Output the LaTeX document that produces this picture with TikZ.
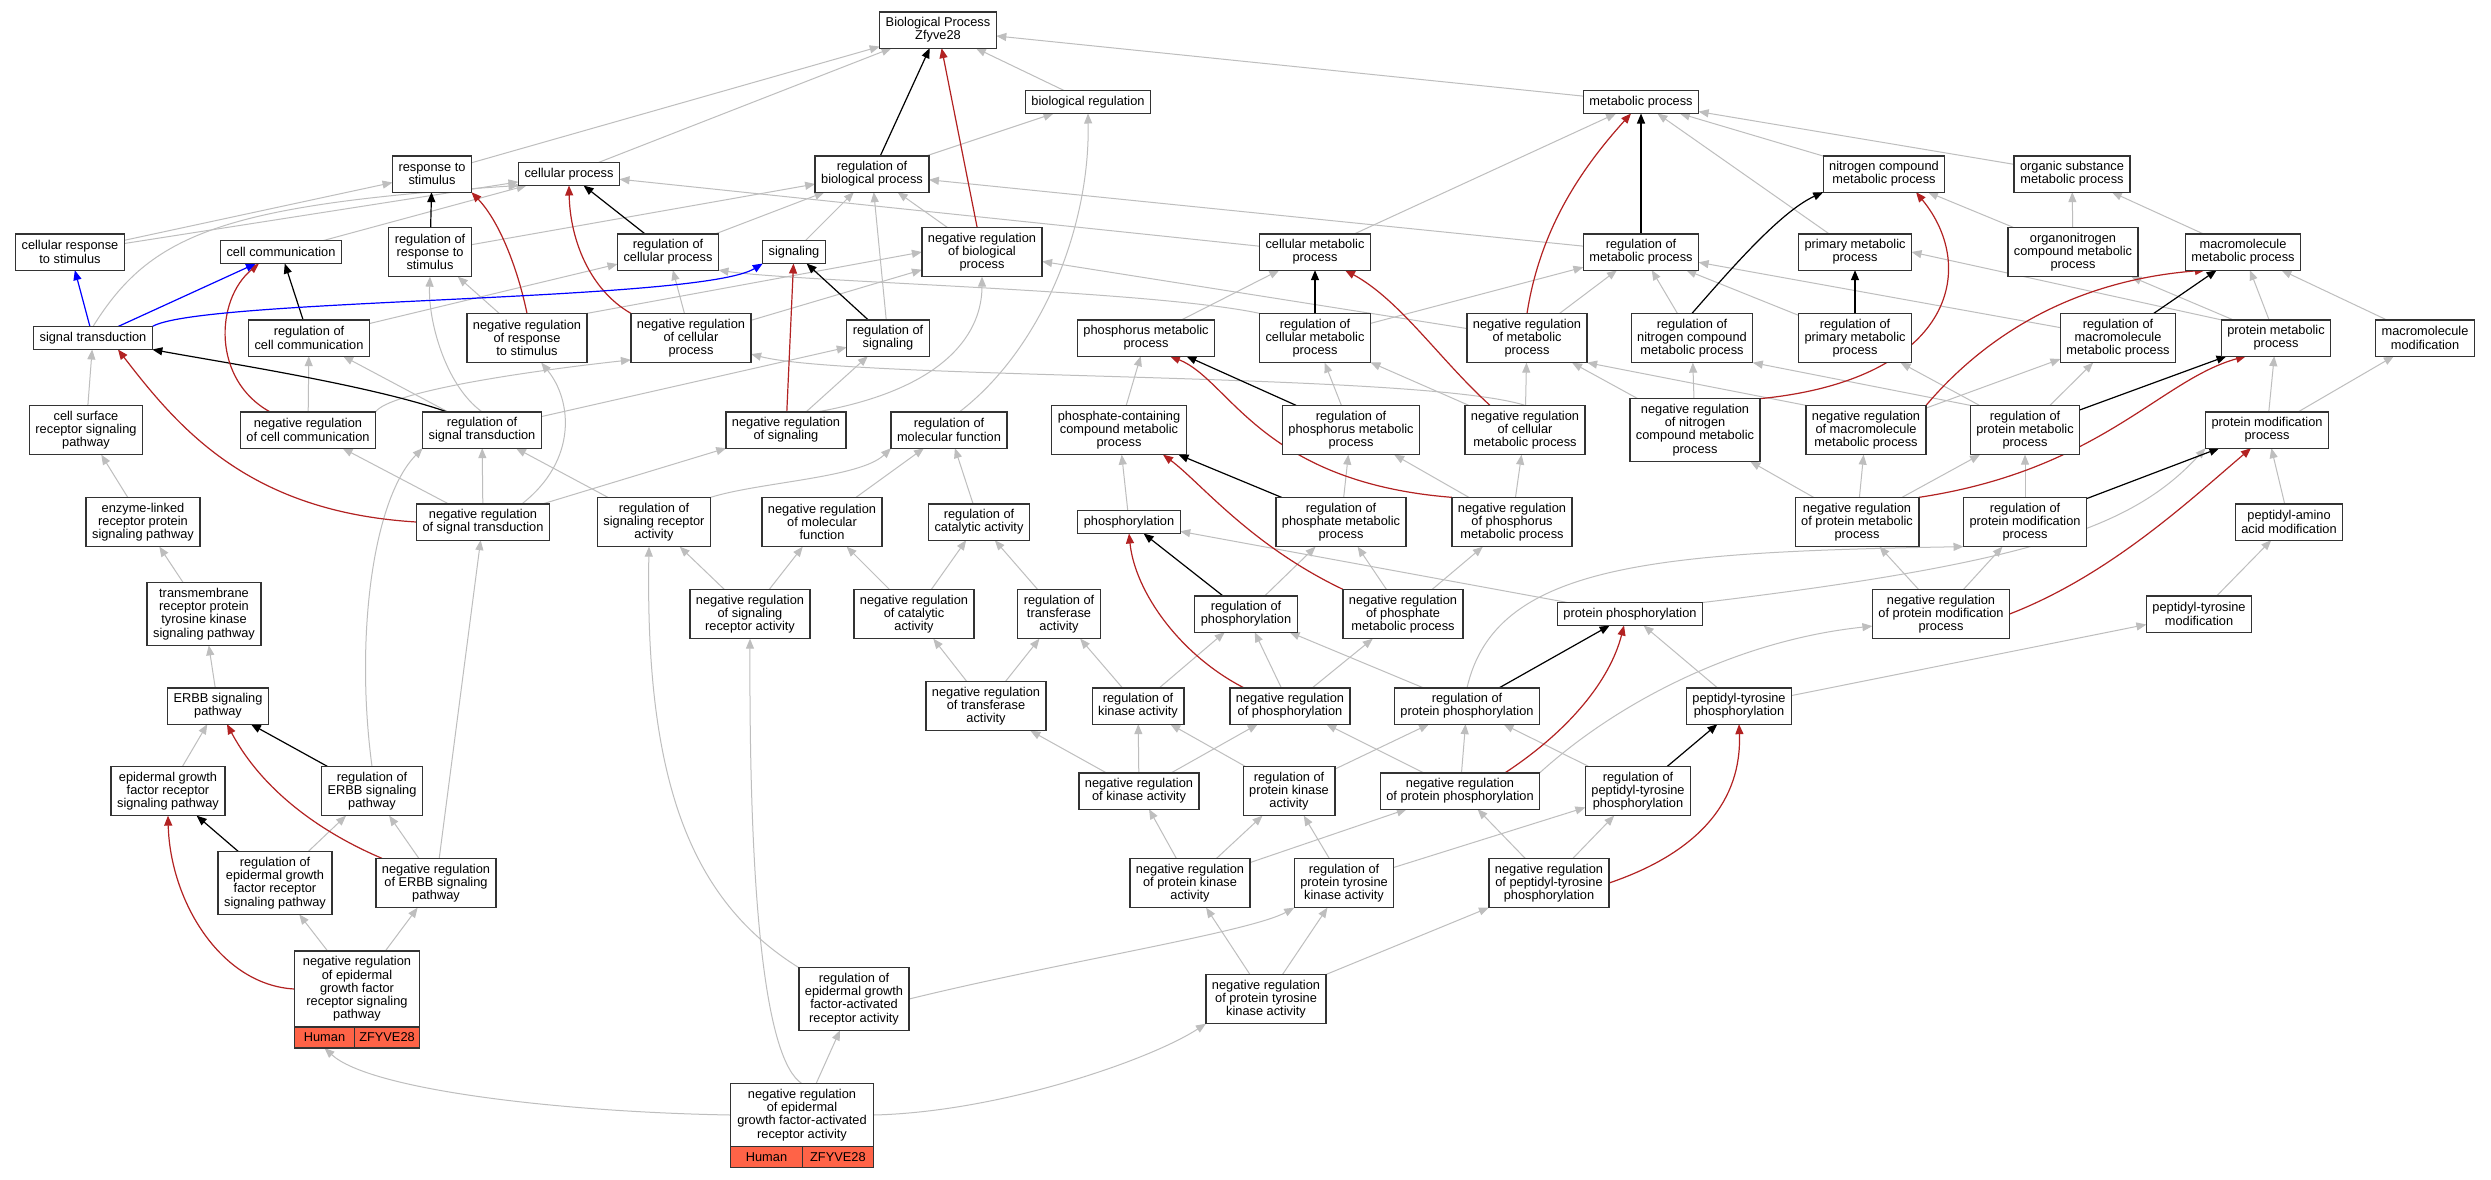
\documentclass[tikz,border=0pt]{standalone}
\usepackage{fontspec}
\setmainfont{Liberation Sans}
\usetikzlibrary{arrows.meta, positioning}
\usepackage{xcolor}
\definecolor{isagray}{RGB}{190,190,190}
\definecolor{negred}{RGB}{178,34,34}
\definecolor{partblue}{RGB}{0,0,255}
\definecolor{hittomato}{RGB}{255,99,71}
\pgfdeclarelayer{edges}
\pgfsetlayers{edges,main}
\begin{document}
\begin{tikzpicture}[x=1pt, y=-1pt,
        term/.style={draw=black!80, line width=1.3pt, fill=white, align=center, inner xsep=6pt, inner ysep=1pt, outer sep=0pt, font=\fontsize{12.8}{13.3}\selectfont},
        l1/.style={minimum height=23pt},
        l2/.style={minimum height=36.3pt},
        l3/.style={minimum height=49.3pt},
        l4/.style={minimum height=62.7pt},
        hit/.style={term, fill=hittomato, inner xsep=2pt, minimum height=21pt},
        isa/.style={draw=isagray, line width=1pt, -{Triangle[length=10pt,width=8pt]}},
        reg/.style={draw=black, line width=1.2pt, -{Triangle[length=10pt,width=8pt]}},
        neg/.style={draw=negred, line width=1.2pt, -{Triangle[length=10pt,width=8pt]}},
        part/.style={draw=partblue, line width=1.2pt, -{Triangle[length=10pt,width=8pt]}}
    ]
        \useasboundingbox (0,0) rectangle (2491,1179);
        % Terms
        \node[term, l2] (bp) at (938,30) {Biological Process\\Zfyve28};
        \node[term, l1] (breg) at (1088,102) {biological regulation};
        \node[term, l1] (mp) at (1641,102) {metabolic process};
        \node[term, l2] (rts) at (432,174) {response to\\stimulus};
        \node[term, l1] (cp) at (569,174) {cellular process};
        \node[term, l2] (rbp) at (872,174) {regulation of\\biological process};
        \node[term, l2] (ncmp) at (1884,174) {nitrogen compound\\metabolic process};
        \node[term, l2] (osmp) at (2072,174) {organic substance\\metabolic process};
        \node[term, l2] (crts) at (70,252) {cellular response\\to stimulus};
        \node[term, l1] (cc) at (281,252) {cell communication};
        \node[term, l3] (rrts) at (430,252) {regulation of\\response to\\stimulus};
        \node[term, l2] (rcp) at (668,252) {regulation of\\cellular process};
        \node[term, l1] (sig) at (794,252) {signaling};
        \node[term, l3] (nrbp) at (982,252) {negative regulation\\of biological\\process};
        \node[term, l2] (cmp) at (1315,252) {cellular metabolic\\process};
        \node[term, l2] (rmp) at (1641,252) {regulation of\\metabolic process};
        \node[term, l2] (pmp) at (1855,252) {primary metabolic\\process};
        \node[term, l3] (oncmp) at (2073,252) {organonitrogen\\compound metabolic\\process};
        \node[term, l2] (mmp) at (2243,252) {macromolecule\\metabolic process};
        \node[term, l1] (st) at (93,338) {signal transduction};
        \node[term, l2] (rcc) at (309,338) {regulation of\\cell communication};
        \node[term, l3] (nrrts) at (527,338) {negative regulation\\of response\\to stimulus};
        \node[term, l3] (nrcp) at (691,338) {negative regulation\\of cellular\\process};
        \node[term, l2] (rs) at (888,338) {regulation of\\signaling};
        \node[term, l2] (phmp) at (1146,338) {phosphorus metabolic\\process};
        \node[term, l3] (rcmp) at (1315,338) {regulation of\\cellular metabolic\\process};
        \node[term, l3] (nrmp) at (1527,338) {negative regulation\\of metabolic\\process};
        \node[term, l3] (rncmp) at (1692,338) {regulation of\\nitrogen compound\\metabolic process};
        \node[term, l3] (rpmp) at (1855,338) {regulation of\\primary metabolic\\process};
        \node[term, l3] (rmmp) at (2118,338) {regulation of\\macromolecule\\metabolic process};
        \node[term, l2] (prmp) at (2276,338) {protein metabolic\\process};
        \node[term, l2] (mmod) at (2425,338) {macromolecule\\modification};
        \node[term, l3] (csrsp) at (86,430) {cell surface\\receptor signaling\\pathway};
        \node[term, l2] (nrcc) at (308,430) {negative regulation\\of cell communication};
        \node[term, l2] (rst) at (482,430) {regulation of\\signal transduction};
        \node[term, l2] (nrs) at (786,430) {negative regulation\\of signaling};
        \node[term, l2] (rmf) at (949,430) {regulation of\\molecular function};
        \node[term, l3] (pccmp) at (1119,430) {phosphate-containing\\compound metabolic\\process};
        \node[term, l3] (rphmp) at (1351,430) {regulation of\\phosphorus metabolic\\process};
        \node[term, l3] (nrcmp) at (1525,430) {negative regulation\\of cellular\\metabolic process};
        \node[term, l4] (nrncmp) at (1695,430) {negative regulation\\of nitrogen\\compound metabolic\\process};
        \node[term, l3] (nrmmp) at (1866,430) {negative regulation\\of macromolecule\\metabolic process};
        \node[term, l3] (rprmp) at (2025,430) {regulation of\\protein metabolic\\process};
        \node[term, l2] (pmod) at (2267,430) {protein modification\\process};
        \node[term, l3] (elrpsp) at (143,522) {enzyme-linked\\receptor protein\\signaling pathway};
        \node[term, l2] (nrst) at (483,522) {negative regulation\\of signal transduction};
        \node[term, l3] (rsra) at (654,522) {regulation of\\signaling receptor\\activity};
        \node[term, l3] (nrmf) at (822,522) {negative regulation\\of molecular\\function};
        \node[term, l2] (rca) at (979,522) {regulation of\\catalytic activity};
        \node[term, l1] (phos) at (1129,522) {phosphorylation};
        \node[term, l3] (rpcmp) at (1341,522) {regulation of\\phosphate metabolic\\process};
        \node[term, l3] (nrphmp) at (1512,522) {negative regulation\\of phosphorus\\metabolic process};
        \node[term, l3] (nrprmp) at (1857,522) {negative regulation\\of protein metabolic\\process};
        \node[term, l3] (rpmod) at (2025,522) {regulation of\\protein modification\\process};
        \node[term, l2] (pamod) at (2289,522) {peptidyl-amino\\acid modification};
        \node[term, l4] (tmrtk) at (204,614) {transmembrane\\receptor protein\\tyrosine kinase\\signaling pathway};
        \node[term, l3] (nrsra) at (750,614) {negative regulation\\of signaling\\receptor activity};
        \node[term, l3] (nrca) at (914,614) {negative regulation\\of catalytic\\activity};
        \node[term, l3] (rta) at (1059,614) {regulation of\\transferase\\activity};
        \node[term, l2] (rphos) at (1246,614) {regulation of\\phosphorylation};
        \node[term, l3] (nrpcmp) at (1403,614) {negative regulation\\of phosphate\\metabolic process};
        \node[term, l1] (pphos) at (1630,614) {protein phosphorylation};
        \node[term, l3] (nrpmod) at (1941,614) {negative regulation\\of protein modification\\process};
        \node[term, l2] (ptmod) at (2199,614) {peptidyl-tyrosine\\modification};
        \node[term, l2] (erbb) at (218,706) {ERBB signaling\\pathway};
        \node[term, l3] (nrta) at (986,706) {negative regulation\\of transferase\\activity};
        \node[term, l2] (rka) at (1138,706) {regulation of\\kinase activity};
        \node[term, l2] (nrphos) at (1290,706) {negative regulation\\of phosphorylation};
        \node[term, l2] (rpphos) at (1467,706) {regulation of\\protein phosphorylation};
        \node[term, l2] (ptphos) at (1739,706) {peptidyl-tyrosine\\phosphorylation};
        \node[term, l3] (egfr) at (168,791) {epidermal growth\\factor receptor\\signaling pathway};
        \node[term, l3] (rerbb) at (372,791) {regulation of\\ERBB signaling\\pathway};
        \node[term, l2] (nrka) at (1139,791) {negative regulation\\of kinase activity};
        \node[term, l3] (rpka) at (1289,791) {regulation of\\protein kinase\\activity};
        \node[term, l2] (nrpphos) at (1460,791) {negative regulation\\of protein phosphorylation};
        \node[term, l3] (rptphos) at (1638,791) {regulation of\\peptidyl-tyrosine\\phosphorylation};
        \node[term, l4] (regfr) at (275,883) {regulation of\\epidermal growth\\factor receptor\\signaling pathway};
        \node[term, l3] (nrerbb) at (436,883) {negative regulation\\of ERBB signaling\\pathway};
        \node[term, l3] (nrpka) at (1190,883) {negative regulation\\of protein kinase\\activity};
        \node[term, l3] (rptka) at (1344,883) {regulation of\\protein tyrosine\\kinase activity};
        \node[term, l3] (nrptphos) at (1549,883) {negative regulation\\of peptidyl-tyrosine\\phosphorylation};
        \node[term, l4] (regfra) at (854,999) {regulation of\\epidermal growth\\factor-activated\\receptor activity};
        \node[term, l3] (nrptka) at (1266,999) {negative regulation\\of protein tyrosine\\kinase activity};
        % Annotated terms
        \node[term, minimum width=125pt, minimum height=76pt] (nregfr) at (357,989) {negative regulation\\of epidermal\\growth factor\\receptor signaling\\pathway};
        \node[hit, minimum width=60pt, below right=0pt and 0pt of nregfr.south west] (nregfrH) {Human};
        \node[hit, minimum width=65pt, right=0pt of nregfrH] (nregfrZ) {ZFYVE28};
        \node[term, l4, minimum width=142.8pt] (nregfra) at (802,1115) {negative regulation\\of epidermal\\growth factor-activated\\receptor activity};
        \node[hit, minimum width=71.8pt, below right=0pt and 0pt of nregfra.south west] (nregfraH) {Human};
        \node[hit, minimum width=71pt, right=0pt of nregfraH] (nregfraZ) {ZFYVE28};
        \begin{pgfonlayer}{edges}
        \fill[white] (0,0) rectangle (2491,1179);
        % is_a links
        \foreach \a/\b in {rts/bp, cp/bp, breg/bp, mp/bp, rbp/breg,
            cmp/mp, pmp/mp, ncmp/mp, osmp/mp,
            crts/rts, crts/cp, cc/cp, cmp/cp,
            rrts/rbp, rcp/rbp, sig/rbp, rs/rbp, nrbp/rbp, rmp/rbp,
            nrrts.north east/nrbp.west, nrcp/nrbp, nrmp/nrbp,
            nrrts/rrts, rcc/rcp, nrcp/rcp,
            rst/rs, nrs/rs, nrcc/rcc, rst/rcc,
            phmp/cmp, pccmp/phmp, rphmp/rcmp, nrcmp/rcmp,
            rcmp/rmp, nrmp/rmp, rncmp/rmp, rpmp/rmp, rmmp/rmp,
            oncmp/ncmp, oncmp/osmp, mmp/osmp,
            nrncmp/rncmp, nrcmp/nrmp, nrncmp/nrmp, nrmmp.north west/nrmp.south east,
            rprmp/rpmp, rprmp.north west/rncmp.south east, rprmp/rmmp, nrmmp/rmmp,
            prmp/mmp, mmod/mmp, prmp.north west/pmp.east, prmp/oncmp,
            pmod/prmp, pmod/mmod,
            csrsp/st, elrpsp/csrsp, tmrtk/elrpsp, erbb/tmrtk, egfr/erbb,
            nrst/rst, rsra/rst, nrst/nrcc, nrst/nrs, nrerbb/nrst,
            nrsra/rsra, nrmf/rmf, rca/rmf, nrsra/nrmf, nrca/nrmf, nrca/rca, rta/rca,
            nrta/rta, nrta/nrca, rka/rta, nrka/rka, nrka/nrta, nrka/nrphos,
            rpka/rka, rka/rphos, nrphos/rphos, nrphos/nrpcmp, rpphos/rphos,
            phos/pccmp, rphos/rpcmp, rpcmp/rphmp, nrphmp/rphmp, nrphmp/nrcmp,
            nrpcmp/nrphmp, nrpcmp/rpcmp, pphos/phos,
            nrpmod/rpmod, nrpmod/nrprmp, rpmod/rprmp, nrprmp/rprmp, nrprmp/nrmmp, nrprmp/nrncmp,
            pamod/pmod, ptmod/pamod, ptphos/ptmod, ptphos/pphos,
            nrpphos/rpphos, rptphos/rpphos, rpka/rpphos, nrpphos/nrphos,
            nrptphos/nrpphos, nrptphos/rptphos,
            regfr/rerbb, nrerbb/rerbb, nregfr/regfr, nregfr/nrerbb,
            nrptka/nrpka, nrptka/rptka, nrptka/nrptphos, rptka/rpka, rptka/rptphos,
            nrpka/nrka, nrpka/rpka, nrpka/nrpphos, nregfra/regfra} {
            \draw[isa] (\a) -- (\b);
        }
        \draw[isa] (st.north) .. controls (150,235) and (220,205) .. (cp.south west);
        \draw[isa] (rcmp.north west) .. controls (1150,290) and (800,282) .. (rcp.south east);
        \draw[isa] (nrcmp.north) .. controls (1420,372) and (850,380) .. (nrcp.-15);
        \draw[isa] (nrcc.north east) .. controls (390,392) and (520,372) .. (nrcp.200);
        \draw[isa] (rsra.north east) .. controls (760,482) and (860,478) .. (rmf.south west);
        \draw[isa] (rmf.60) .. controls (1040,350) and (1090,230) .. (breg.south);
        \draw[isa] (nrs.30) .. controls (950,388) and (982,330) .. (nrbp.south);
        \draw[isa] (rst.north) .. controls (445,385) and (428,320) .. (rrts.south);
        \draw[isa] (nrst.25) .. controls (578,460) and (572,400) .. (nrrts.-60);
        \draw[isa] (rerbb.north) .. controls (355,640) and (372,500) .. (rst.south west);
        \draw[isa] (regfra.north west) .. controls (690,900) and (645,780) .. ([xshift=-5pt]rsra.south);
        \draw[isa] (nregfra.north) .. controls (765,1060) and (749,900) .. (nrsra.south);
        \draw[isa] (nregfra.west) .. controls (560,1112) and (370,1090) .. (nregfrH.south);
        \draw[isa] (nregfra.east) .. controls (1000,1112) and (1150,1060) .. (nrptka.south west);
        \draw[isa] (regfra.east) .. controls (1060,962) and (1250,932) .. (rptka.south west);
        \draw[isa] (nrpphos.north east) .. controls (1620,700) and (1740,640) .. (nrpmod.190);
        \draw[isa] (rpphos.north) .. controls (1495,565) and (1650,552) .. (rpmod.south west);
        \draw[isa] (pphos.north east) .. controls (2040,562) and (2135,525) .. (pmod.south west);
        % regulates links
        \foreach \a/\b in {rbp/bp, rmp/mp, rrts/rts, rcp/cp, rs/sig, rcc/cc, rcmp/cmp,
            rphmp/phmp, rpmp/pmp, rmmp/mmp, rprmp/prmp, rpmod/pmod, rpcmp/pccmp,
            rphos/phos, rpphos/pphos, rptphos/ptphos, rerbb/erbb, regfr/egfr} {
            \draw[reg] (\a) -- (\b);
        }
        \draw[reg] ([xshift=-35pt]rst.north) .. controls (370,385) and (220,362) .. (st.south east);
        \draw[reg] (rncmp.north) .. controls (1730,270) and (1780,212) .. (ncmp.south west);
        % negatively regulates links
        \draw[neg] (nrbp) -- (bp);
        \draw[neg] (nrs) -- (sig);
        \draw[neg] (nrst.west) .. controls (250,512) and (180,430) .. ([xshift=25pt]st.south);
        \draw[neg] ([xshift=-38pt]nrcc.north) .. controls (212,380) and (215,300) .. ([xshift=-22pt]cc.south);
        \draw[neg] (nrrts.north) .. controls (518,270) and (500,222) .. (rts.south east);
        \draw[neg] (nrcp.north west) .. controls (590,290) and (570,240) .. (cp.south);
        \draw[neg] (nrmp.north) .. controls (1540,230) and (1580,170) .. ([xshift=-10pt]mp.south);
        \draw[neg] ([xshift=-35pt]nrcmp.north) .. controls (1440,360) and (1400,300) .. ([xshift=30pt]cmp.south);
        \draw[neg] (nrncmp.north east) .. controls (1950,380) and (1980,270) .. ([xshift=32pt]ncmp.south);
        \draw[neg] (nrmmp.north east) .. controls (1990,330) and (2080,280) .. ([xshift=-38pt]mmp.south);
        \draw[neg] (nrprmp.north east) .. controls (2100,470) and (2160,380) .. ([xshift=-30pt]prmp.south);
        \draw[neg] (nrpmod.east) .. controls (2110,575) and (2190,500) .. ([xshift=-16pt]pmod.south);
        \draw[neg] (nrphmp.north west) .. controls (1260,482) and (1230,380) .. ([xshift=24pt]phmp.south);
        \draw[neg] (nrpcmp.north west) .. controls (1250,545) and (1200,482) .. ([xshift=44pt]pccmp.south);
        \draw[neg] ([xshift=-46pt]nrphos.north) .. controls (1180,655) and (1135,592) .. (phos.south);
        \draw[neg] ([xshift=45pt]nrpphos.north) .. controls (1570,730) and (1610,680) .. ([xshift=-6pt]pphos.south);
        \draw[neg] (nrptphos.east) .. controls (1700,852) and (1742,800) .. (ptphos.south);
        \draw[neg] ([xshift=-54pt]nrerbb.north) .. controls (320,832) and (262,790) .. ([xshift=9pt]erbb.south);
        \draw[neg] (nregfr.west) .. controls (220,985) and (170,900) .. (egfr.south);
        % part_of links
        \draw[part] (st) -- (crts);
        \draw[part] (st) -- (cc);
        \draw[part] (st.north east) .. controls (200,298) and (700,302) .. (sig.south west);
        \end{pgfonlayer}
    \end{tikzpicture}
\end{document}
